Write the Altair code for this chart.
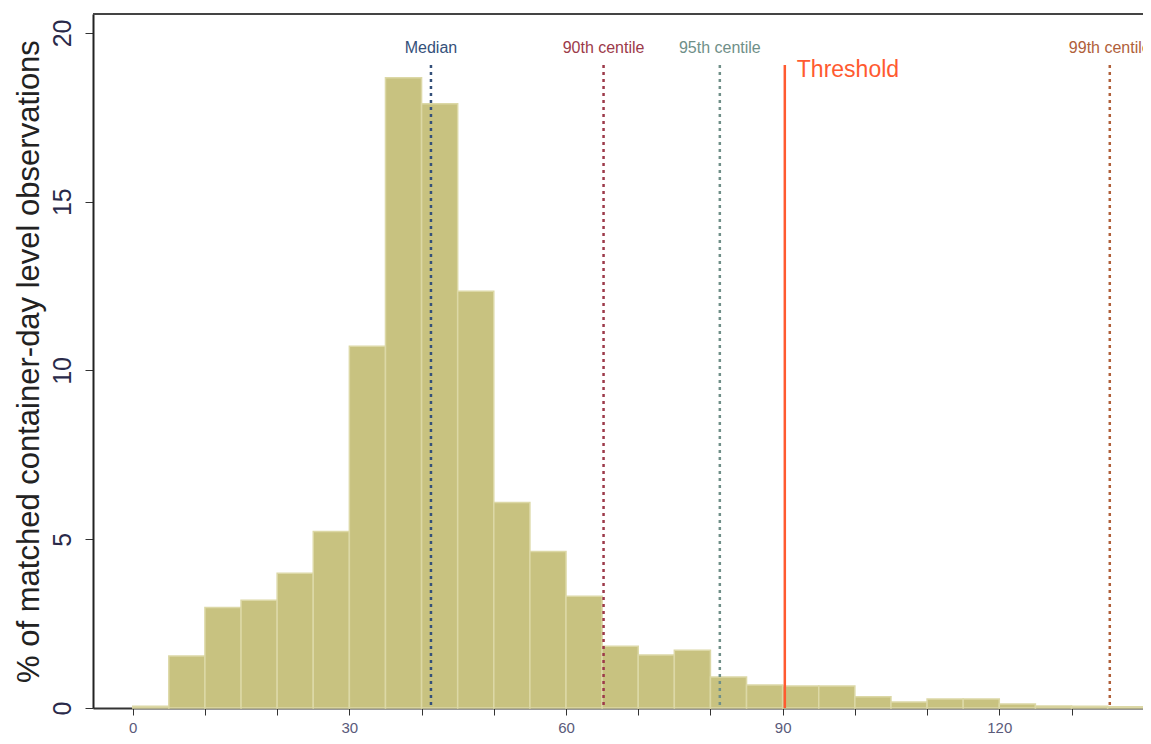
### Histogram of container-day observations with centile markers

import pandas as pd
import altair as alt

### Bin starts (width 5) and share of observations in each bin

bin_start = [0, 5, 10, 15, 20, 25, 30, 35, 40, 45, 50, 55, 60, 65, 70,
             75, 80, 85, 90, 95, 100, 105, 110, 115, 120, 125, 130, 135]
pct = [0.05, 1.54, 2.98, 3.19, 3.99, 5.23, 10.72, 18.67, 17.9, 12.35, 6.09,
       4.64, 3.31, 1.83, 1.57, 1.71, 0.92, 0.68, 0.65, 0.65, 0.33, 0.18,
       0.27, 0.27, 0.12, 0.06, 0.05, 0.04]

### Reference lines

line_names = ["Median", "90th centile", "95th centile", "99th centile"]
line_pos = [41.3, 65.2, 81.3, 135.3]
line_colors = ["#34507a", "#9c3a4a", "#6f8f88", "#b0603a"]

threshold = 90.3

bars = pd.DataFrame({"start": bin_start, "pct": pct})
bars["end"] = bars["start"] + 5

lines = pd.DataFrame({"name": line_names, "pos": line_pos, "color": line_colors})
lines["top"] = 19.05
lines["bottom"] = 0
lines["label_y"] = 19.56

thr = pd.DataFrame({"pos": [threshold], "top": [19.05], "bottom": [0],
                    "label": ["Threshold"], "label_y": [18.9]})

x_scale = alt.Scale(domain=[-5.5, 139.9], nice=False, zero=False)
y_scale = alt.Scale(domain=[0, 20.56], nice=False)

x_axis = alt.Axis(values=list(range(0, 141, 10)),
                  labelExpr="datum.value % 30 == 0 ? datum.label : ''",
                  grid=False, tickSize=7, tickColor="#333", domainColor="#333",
                  domainWidth=2, labelFontSize=15, labelColor="#5a5a7a",
                  labelPadding=5, title=None)
y_axis = alt.Axis(values=[0, 5, 10, 15, 20], grid=False, tickSize=8,
                  tickColor="#333", domainColor="#222", domainWidth=2,
                  labelAngle=270, labelAlign="center", labelBaseline="bottom",
                  labelFontSize=25, labelColor="#2a2a4a", labelPadding=10,
                  title="% of matched container-day level observations",
                  titleFontSize=31, titleFontWeight="normal",
                  titleColor="#222", titlePadding=5)

hist = alt.Chart(bars).mark_bar(fill="#c8c280", stroke="#dcd8a6",
                                strokeWidth=1.5).encode(
    x=alt.X("start:Q", scale=x_scale, axis=x_axis),
    x2="end:Q",
    y=alt.Y("pct:Q", scale=y_scale, axis=y_axis),
    y2=alt.datum(0)
)

rules = alt.Chart(lines).mark_rule(strokeDash=[3, 4], strokeWidth=2.5).encode(
    x="pos:Q",
    y="top:Q",
    y2="bottom:Q",
    color=alt.Color("color:N", scale=None)
)

rule_text = alt.Chart(lines).mark_text(fontSize=16, align="center",
                                       baseline="middle").encode(
    x="pos:Q",
    y="label_y:Q",
    text="name:N",
    color=alt.Color("color:N", scale=None)
)

thr_rule = alt.Chart(thr).mark_rule(color="#ff5a30", strokeWidth=2.5).encode(
    x="pos:Q",
    y="top:Q",
    y2="bottom:Q"
)

thr_text = alt.Chart(thr).mark_text(color="#ff5a30", fontSize=23, align="left",
                                    baseline="middle", dx=12).encode(
    x="pos:Q",
    y="label_y:Q",
    text="label:N"
)

### Top frame line (the right side of the frame is cut off in the original)

top_line = alt.Chart(bars).mark_rule(color="#444", strokeWidth=2).encode(
    x=alt.value(0), x2=alt.value(1050), y=alt.value(0)
)

chart = (alt.layer(hist, rules, thr_rule, rule_text, thr_text, top_line)
    .properties(width=1050, height=694,
                autosize=alt.AutoSizeParams(type="none"),
                padding={"left": 85, "top": 6, "right": 0, "bottom": 28})
    .configure(font="Liberation Sans")
    .configure_view(stroke=None))

chart.save("out.html", embed_options={"renderer": "svg", "actions": False})
